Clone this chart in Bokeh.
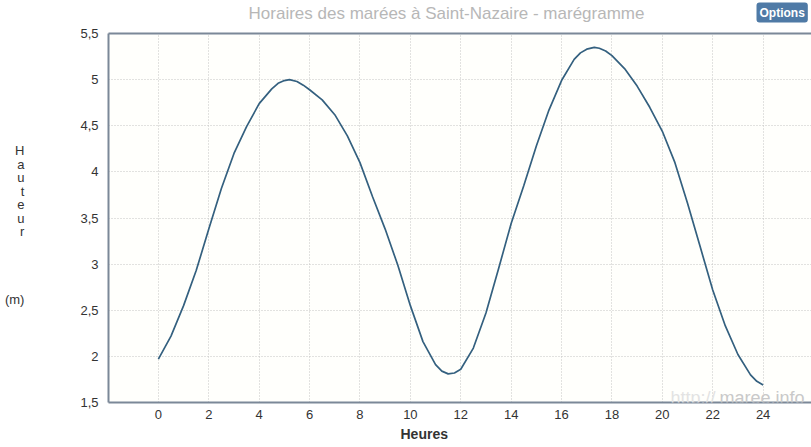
from bokeh.plotting import figure
from bokeh.models import FixedTicker, LinearAxis, Label, Range1d, Title
from bokeh.layouts import column
from bokeh.embed import file_html
from bokeh.resources import INLINE

# ---- data ----
hours = [0, 0.5, 1, 1.5, 2, 2.5, 3, 3.5, 4, 4.5, 4.75, 5, 5.2, 5.5, 5.75, 6, 6.5,
         7, 7.5, 8, 8.5, 9, 9.5, 10, 10.5, 11, 11.25, 11.5, 11.75, 12, 12.5, 13,
         13.5, 14, 14.5, 15, 15.5, 16, 16.5, 16.75, 17, 17.3, 17.5, 17.75, 18,
         18.5, 19, 19.5, 20, 20.5, 21, 21.5, 22, 22.5, 23, 23.5, 23.75, 24]
heights = [1.97, 2.22, 2.55, 2.93, 3.38, 3.82, 4.20, 4.49, 4.74, 4.90, 4.96, 4.99,
           5.00, 4.98, 4.94, 4.89, 4.78, 4.62, 4.39, 4.10, 3.73, 3.38, 2.99,
           2.55, 2.16, 1.91, 1.84, 1.81, 1.82, 1.86, 2.09, 2.47, 2.95, 3.44,
           3.85, 4.28, 4.67, 4.99, 5.22, 5.29, 5.33, 5.35, 5.34, 5.31, 5.26,
           5.12, 4.93, 4.70, 4.44, 4.10, 3.66, 3.19, 2.72, 2.33, 2.02, 1.80,
           1.73, 1.69]
x_ticks = [0, 2, 4, 6, 8, 10, 12, 14, 16, 18, 20, 22, 24]
y_ticks = [1.5, 2, 2.5, 3, 3.5, 4, 4.5, 5, 5.5]
y_tick_labels = ["1,5", "2", "2,5", "3", "3,5", "4", "4,5", "5", "5,5"]
title_text = "Horaires des marées à Saint-Nazaire - marégramme"
y_label_letters = ["H", "a", "u", "t", "e", "u", "r"]
y_label_unit = "(m)"
x_label = "Heures"
button_text = "Options"

FONT = "Liberation Sans"
X0, X1 = -1.98, 25.92
Y0, Y1 = 1.5, 5.5
W = 811
HEADER_H = 24
FL, FT, FB = 108.0, 33.0, 402.0

# ---------------- header (title + button) ----------------
# the column aligns the header frame with the chart frame (page x 108..811)
hdr = figure(width=W, height=HEADER_H, x_range=Range1d(FL, W),
             y_range=Range1d(HEADER_H, 0), output_backend="svg",
             toolbar_location=None, min_border=0, min_border_left=int(FL))
hdr.axis.visible = False
hdr.grid.visible = False
hdr.outline_line_color = None
hdr.background_fill_color = "white"
hdr.border_fill_color = "white"
hdr.add_layout(Label(x=446, y=13, text=title_text, text_font=FONT,
                     text_font_size="17px", text_color="#b7b7b7",
                     text_align="center", text_baseline="middle"))
hdr.add_layout(Label(x=756, y=2, text=button_text, text_font=FONT,
                     text_font_size="12px", text_color="white",
                     text_font_style="bold", text_baseline="top",
                     background_fill_color="#4f7aa6", padding=3,
                     border_radius=3))

# ---------------- main chart ----------------
MAIN_H = 447 - HEADER_H
p = figure(width=W, height=MAIN_H, x_range=(X0, X1), y_range=(Y0, Y1),
           output_backend="svg", toolbar_location=None,
           min_border_left=int(FL), min_border_right=0,
           min_border_top=int(FT) - HEADER_H,
           min_border_bottom=447 - int(FB))
p.outline_line_color = None
p.background_fill_color = "#fffffc"
p.border_fill_color = "white"

PXU = 25.2
PYU = (FB - FT) / (Y1 - Y0)
def dx(px):
    return X0 + (px - FL) / PXU
def dy(py):
    return Y1 - (py - FT) / PYU

AX_COL = "#7b8898"
xa = p.xaxis[0]
xa.ticker = FixedTicker(ticks=x_ticks)
xa.axis_line_color = AX_COL
xa.axis_line_width = 2
xa.major_tick_line_color = None
xa.minor_tick_line_color = None
xa.major_tick_out = 0
xa.major_tick_in = 0
xa.major_label_standoff = 7
xa.major_label_text_font = FONT
xa.major_label_text_font_size = "13px"
xa.major_label_text_color = "#333333"

ya = p.yaxis[0]
ya.ticker = FixedTicker(ticks=y_ticks)
ya.major_label_overrides = {t: s for t, s in zip(y_ticks, y_tick_labels)}
ya.axis_line_color = AX_COL
ya.axis_line_width = 2
ya.major_tick_line_color = None
ya.minor_tick_line_color = None
ya.major_tick_out = 0
ya.major_tick_in = 0
ya.major_label_standoff = 10
ya.major_label_text_font = FONT
ya.major_label_text_font_size = "13px"
ya.major_label_text_color = "#333333"
ya.axis_label = "\n".join([""] + y_label_letters + ["", "", "", "", y_label_unit])
ya.axis_label_orientation = "horizontal"
ya.axis_label_text_font = FONT
ya.axis_label_text_font_size = "13px"
ya.axis_label_text_line_height = 0.9
ya.axis_label_text_font_style = "normal"
ya.axis_label_text_color = "#333333"
ya.axis_label_text_align = "center"
ya.axis_label_standoff = 53

top = LinearAxis(ticker=FixedTicker(ticks=[]), axis_line_color=AX_COL,
                 axis_line_width=2, major_tick_line_color=None,
                 minor_tick_line_color=None, major_tick_out=0, major_tick_in=0,
                 major_label_standoff=0, major_label_text_font_size="0px")
p.add_layout(top, "above")

p.add_layout(Title(text=x_label, align="left", offset=400 - FL, standoff=5,
                   text_font=FONT, text_font_size="14px",
                   text_font_style="bold", text_color="#333333"), "below")

p.xgrid.ticker = FixedTicker(ticks=x_ticks)
p.ygrid.ticker = FixedTicker(ticks=y_ticks)
for g in (p.xgrid[0], p.ygrid[0]):
    g.grid_line_color = "#c4c4c4"
    g.grid_line_dash = "1 2"
    g.grid_line_width = 1

p.line(hours, heights, line_color="#34607f", line_width=1.7)

p.add_layout(Label(x=dx(670), y=dy(397), text="http://", text_font=FONT,
                   text_font_size="18px", text_color="#e3e3e3",
                   text_baseline="alphabetic"))
p.add_layout(Label(x=dx(719), y=dy(397), text="maree.info", text_font=FONT,
                   text_font_size="18px", text_color="#c9c9c9",
                   text_baseline="alphabetic"))

layout = column(hdr, p, spacing=0)
open("out.html", "w").write(file_html(layout, INLINE))
